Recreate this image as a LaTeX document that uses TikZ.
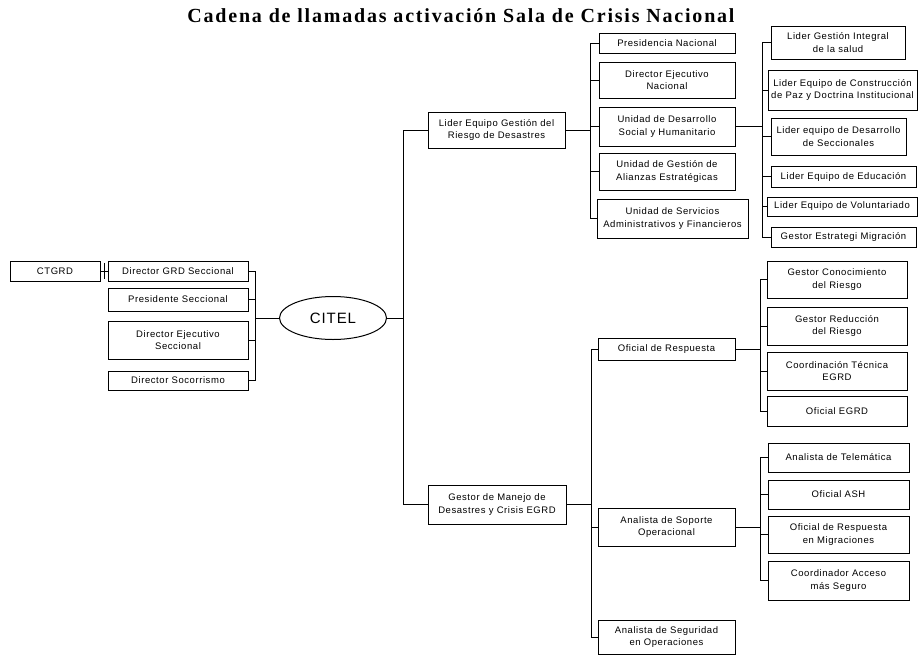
\documentclass[tikz,border=0pt]{standalone}
\usepackage{fontspec}
\usetikzlibrary{calc,shapes.geometric}
\newfontfamily\boxfont[LetterSpace=6]{Liberation Sans}
\newfontfamily\titlefont[LetterSpace=9]{Liberation Serif}
\tikzset{
  bx/.style={draw, line width=1pt, rectangle, align=center, inner sep=1pt,
    font=\boxfont\fontsize{9.5}{12.5}\selectfont},
  ln/.style={line width=1pt},
}
\newcommand{\bxat}[6]{\node[bx, minimum width=#4, minimum height=#5] (#1) at (#2,#3) {#6};}
\begin{document}
\begin{tikzpicture}[x=1pt,y=-1pt]
\useasboundingbox[fill=white] (0,0) rectangle (921,657);
\node[font=\titlefont\bfseries\fontsize{20}{23}\selectfont] (title) at (461,16) {Cadena de llamadas activación Sala de Crisis Nacional};
% left column
\bxat{ctgrd}{55}{271}{90}{20}{CTGRD}
\bxat{dgrd}{178}{271}{140}{20}{Director GRD Seccional}
\bxat{pres}{178}{299.5}{140}{23}{Presidente Seccional}
\bxat{dejs}{178}{340}{140}{38}{Director Ejecutivo\\Seccional}
\bxat{dsoc}{178}{380.5}{140}{19}{Director Socorrismo}
\node[draw, line width=1pt, ellipse, minimum width=107, minimum height=43, inner sep=0pt,
  font=\boxfont\fontsize{15}{17}\selectfont] (citel) at (333,318) {CITEL};
% upper branch
\bxat{lider}{496.5}{130}{137}{36}{Lider Equipo Gestión del\\Riesgo de Desastres}
\bxat{pn}{667}{43}{136}{20}{Presidencia Nacional}
\bxat{den}{667}{80}{136}{36}{Director Ejecutivo\\Nacional}
\bxat{uds}{667}{126.5}{136}{39}{Unidad de Desarrollo\\Social y Humanitario}
\bxat{uga}{667}{171.5}{136}{37}{Unidad de Gestión de\\Alianzas Estratégicas}
\bxat{usa}{672.5}{218.5}{151}{39}{Unidad de Servicios\\Administrativos y Financieros}
\bxat{lgi}{838}{42.5}{134}{33}{Lider Gestión Integral\\de la salud}
\bxat{lec}{842.5}{90}{149}{40}{Lider Equipo de Construcción\\de Paz y Doctrina Institucional}
\bxat{led}{838.5}{136.5}{135}{37}{Lider equipo de Desarrollo\\de Seccionales}
\bxat{lee}{843.5}{176.5}{145}{21}{Lider Equipo de Educación}
\bxat{lev}{842}{206.5}{150}{19}{Lider Equipo de Voluntariado}
\bxat{gem}{843.5}{237}{145}{20}{Gestor Estrategi Migración}
% lower branch
\bxat{gmd}{497}{504.5}{138}{39}{Gestor de Manejo de\\Desastres y Crisis EGRD}
\bxat{ofr}{666.5}{349}{137}{22}{Oficial de Respuesta}
\bxat{aso}{666.5}{527}{137}{38}{Analista de Soporte\\Operacional}
\bxat{aseg}{666.5}{637}{137}{34}{Analista de Seguridad\\en Operaciones}
\bxat{gcr}{837}{279.5}{140}{37}{Gestor Conocimiento\\del Riesgo}
\bxat{grr}{837}{326}{140}{38}{Gestor Reducción\\del Riesgo}
\bxat{cte}{837}{371}{140}{38}{Coordinación Técnica\\EGRD}
\bxat{oeg}{837}{411}{140}{30}{Oficial EGRD}
\bxat{ate}{838.5}{457.5}{141}{29}{Analista de Telemática}
\bxat{oash}{838.5}{494.5}{141}{29}{Oficial ASH}
\bxat{orm}{838.5}{534.5}{141}{37}{Oficial de Respuesta\\en Migraciones}
\bxat{cam}{838.5}{580.5}{141}{39}{Coordinador Acceso\\más Seguro}
% bus coordinates
\coordinate (busL) at (255,0);
\coordinate (busA) at (403,0);
\coordinate (busB) at (590,0);
\coordinate (busC) at (762,0);
\coordinate (busD) at (591,0);
\coordinate (busE) at (760,0);
\coordinate (busF) at (760,0);
% CTGRD link with tick
\draw[ln] (ctgrd.east) -- (dgrd.west);
\coordinate (tk) at ($(ctgrd.east)!0.5!(dgrd.west)$);
\draw[ln] ([yshift=8pt]tk) -- ([yshift=-8pt]tk);
% left bracket
\foreach \c in {dgrd,pres,dejs,dsoc} \draw[ln] (\c.east) -- (\c.east -| busL);
\draw[ln] (dgrd.east -| busL) -- (dsoc.east -| busL);
\draw[ln] (busL |- citel.west) -- (citel.west);
% trunk from CITEL
\draw[ln] (citel.east) -- (busA |- citel.east);
\draw[ln] (lider.west) -- (lider.west -| busA) -- (gmd.west -| busA) -- (gmd.west);
% Lider children
\draw[ln] (lider.east) -- (lider.east -| busB);
\foreach \c in {pn,den,uds,uga,usa} \draw[ln] (\c.west -| busB) -- (\c.west);
\draw[ln] (pn.west -| busB) -- (usa.west -| busB);
% Unidad de Desarrollo children
\draw[ln] (uds.east) -- (uds.east -| busC);
\foreach \c in {lgi,lec,led,lee,lev,gem} \draw[ln] (\c.west -| busC) -- (\c.west);
\draw[ln] (lgi.west -| busC) -- (gem.west -| busC);
% Gestor de Manejo children
\draw[ln] (gmd.east) -- (gmd.east -| busD);
\foreach \c in {ofr,aso,aseg} \draw[ln] (\c.west -| busD) -- (\c.west);
\draw[ln] (ofr.west -| busD) -- (aseg.west -| busD);
% Oficial de Respuesta children
\draw[ln] (ofr.east) -- (ofr.east -| busE);
\foreach \c in {gcr,grr,cte,oeg} \draw[ln] (\c.west -| busE) -- (\c.west);
\draw[ln] (gcr.west -| busE) -- (oeg.west -| busE);
% Analista de Soporte children
\draw[ln] (aso.east) -- (aso.east -| busF);
\foreach \c in {ate,oash,orm,cam} \draw[ln] (\c.west -| busF) -- (\c.west);
\draw[ln] (ate.west -| busF) -- (cam.west -| busF);
\end{tikzpicture}
\end{document}
